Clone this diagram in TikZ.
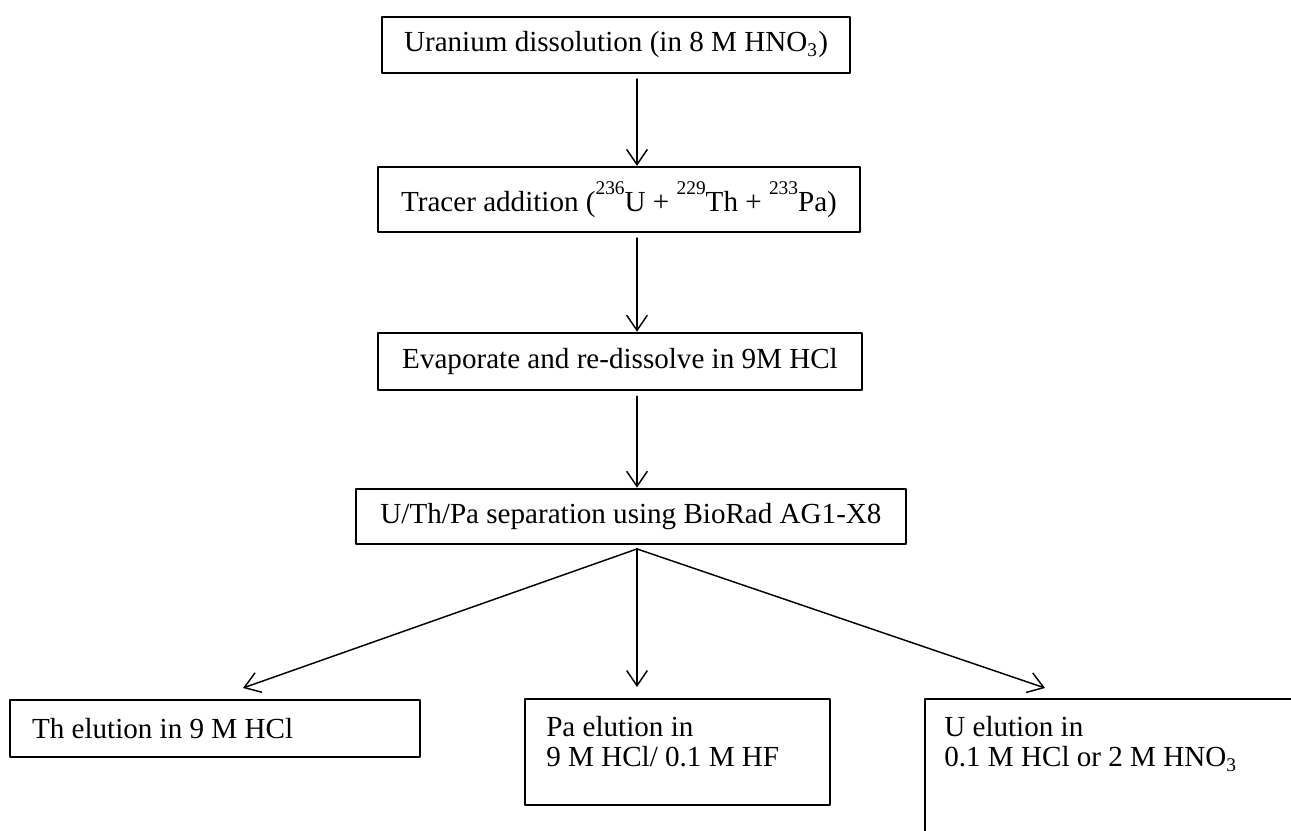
\documentclass[tikz,border=0pt]{standalone}
\usepackage{fontspec}
\setmainfont{Liberation Serif}
\usetikzlibrary{arrows.meta}
\newcommand{\iso}[1]{\raisebox{1.3ex}{\fontsize{8}{8}\selectfont #1}}
\tikzset{
  stepbox/.style={draw, line width=1pt, inner sep=0pt},
  elubox/.style={draw, line width=1pt, inner sep=0pt},
  txt/.style={inner sep=0pt, align=left, anchor=north west},
  arr/.style={->, line width=0.6pt},
}
\begin{document}
\begin{tikzpicture}[x=0.0145cm, y=-0.0145cm, >={Straight Barb[length=2.2mm,width=3mm]}, font=\fontsize{12}{12.5}\selectfont, line join=round, line cap=round]
		\useasboundingbox (0,0) rectangle (1291,831);
		\clip (0,0) rectangle (1291,831);
		% main steps
		\node[stepbox, minimum width=6.79cm, minimum height=0.81cm] (dissolve) at (616,45) {Uranium dissolution (in 8 M HNO\textsubscript{3})};
		\node[stepbox, minimum width=6.99cm, minimum height=0.94cm] (tracer) at (619,199.5) {Tracer addition (\iso{236}U + \iso{229}Th + \iso{233}Pa)};
		\node[stepbox, minimum width=7.02cm, minimum height=0.83cm] (evap) at (620,361.5) {Evaporate and re-dissolve in 9M HCl};
		\node[stepbox, minimum width=7.98cm, minimum height=0.80cm] (sep) at (631,516.5) {U/Th/Pa separation using BioRad AG1-X8};
		% elution boxes
		\node[elubox, minimum width=5.95cm, minimum height=0.83cm] (thbox) at (215,728.5) {};
		\node[elubox, minimum width=4.42cm, minimum height=1.54cm] (pabox) at (677.5,752) {};
		\node[elubox, minimum width=5.58cm, minimum height=2.62cm] (ubox) at (1117.5,789.5) {};
		\node[txt, anchor=west] (thtext) at ([shift={(23,0)}]thbox.west) {Th elution in 9 M HCl};
		\node[txt] (patext) at ([shift={(22,18)}]pabox.north west) {Pa elution in\\9 M HCl/ 0.1 M HF};
		\node[txt] (utext) at ([shift={(20,18)}]ubox.north west) {U elution in\\0.1 M HCl or 2 M HNO\textsubscript{3}};
		% arrows
		\coordinate (ax) at (637,0);
		\draw[arr] ([yshift=-2pt]dissolve.south -| ax) -- (tracer.north -| ax);
		\draw[arr] ([yshift=-2pt]tracer.south -| ax) -- (evap.north -| ax);
		\draw[arr] ([yshift=-2pt]evap.south -| ax) -- (sep.north -| ax);
		\coordinate (apex) at ([yshift=-1.5pt]sep.south -| ax);
		\coordinate (thend) at (243,688);
		\coordinate (paend) at (637,687);
		\coordinate (uend) at (1045,688);
		\draw[arr] (apex) -- (thend);
		\draw[arr] (apex) -- (paend);
		\draw[arr] (apex) -- (uend);
\end{tikzpicture}
\end{document}
